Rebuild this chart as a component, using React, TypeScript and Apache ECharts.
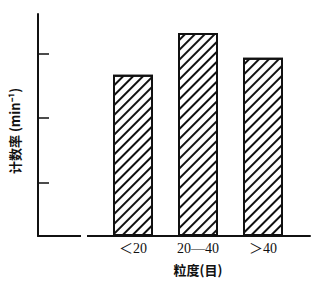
import React, { useEffect, useRef } from "react";
import * as echarts from "echarts";

const categories = ["＜20", "20—40", "＞40"];
const counts = [75, 94.5, 83];
const tickValues = [25, 55, 85];
const yMax = 103.3;

export default function App() {
  const ref = useRef<HTMLDivElement>(null);
  useEffect(() => {
    const chart = echarts.init(ref.current!, null, { renderer: "svg" });
    const hatch = {
      symbol: "rect",
      symbolSize: 1,
      dashArrayX: [1, 0],
      dashArrayY: [1.6, 5],
      rotation: -Math.PI / 4,
      color: "#111",
      backgroundColor: "#fff",
    };
    chart.setOption({
      animation: false,
      backgroundColor: "#fff",
      grid: [
        { left: 100.5, right: 24.5, top: 14, bottom: 46 },
        { left: 35, right: 10, top: 14, bottom: 46 },
      ],
      xAxis: [
        {
          type: "category",
          gridIndex: 0,
          data: categories,
          axisLine: { show: false },
          axisTick: { show: false },
          axisLabel: {
            color: "#111",
            fontFamily: "Liberation Serif, Noto Sans CJK SC",
            fontSize: 14,
            margin: 5,
          },
          name: "粒度(目)",
          nameLocation: "middle",
          nameGap: 27,
          nameTextStyle: {
            color: "#111",
            fontFamily: "Noto Sans CJK SC",
            fontWeight: "bold",
            fontSize: 13,
          },
        },
        {
          type: "value",
          gridIndex: 1,
          min: 0,
          max: 1,
          axisLine: { show: true, lineStyle: { color: "#111", width: 2 } },
          axisTick: { show: false },
          axisLabel: { show: false },
          splitLine: { show: false },
        },
      ],
      yAxis: [
        {
          type: "value",
          gridIndex: 0,
          min: 0,
          max: yMax,
          show: false,
          splitLine: { show: false },
        },
        {
          type: "value",
          gridIndex: 1,
          min: 0,
          max: yMax,
          axisLine: { show: true, lineStyle: { color: "#111", width: 2 } },
          axisTick: {
            show: true,
            inside: true,
            length: 11,
            customValues: tickValues,
            lineStyle: { color: "#111", width: 1.5 },
          },
          axisLabel: { show: false },
          splitLine: { show: false },
          name: "计数率 (min⁻¹)",
          nameLocation: "middle",
          nameGap: 17,
          nameRotate: 90,
          nameTextStyle: {
            color: "#111",
            fontFamily: "Noto Sans CJK SC",
            fontWeight: "bold",
            fontSize: 13,
            padding: [0, 12, 0, 0],
          },
        },
      ],
      graphic: [
        {
          type: "rect",
          shape: { x: 81, y: 232, width: 6, height: 8 },
          style: { fill: "#fff" },
          z: 100,
        },
      ],
      series: [
        {
          type: "bar",
          xAxisIndex: 0,
          yAxisIndex: 0,
          data: counts,
          barWidth: 40,
          itemStyle: {
            color: "#fff",
            borderColor: "#111",
            borderWidth: 2,
            decal: hatch,
          },
        },
      ],
    });
    return () => chart.dispose();
  }, []);
  return (
    <div
      ref={ref}
      style={{ position: "fixed", left: 0, top: 0, width: 320, height: 282 }}
    />
  );
}
